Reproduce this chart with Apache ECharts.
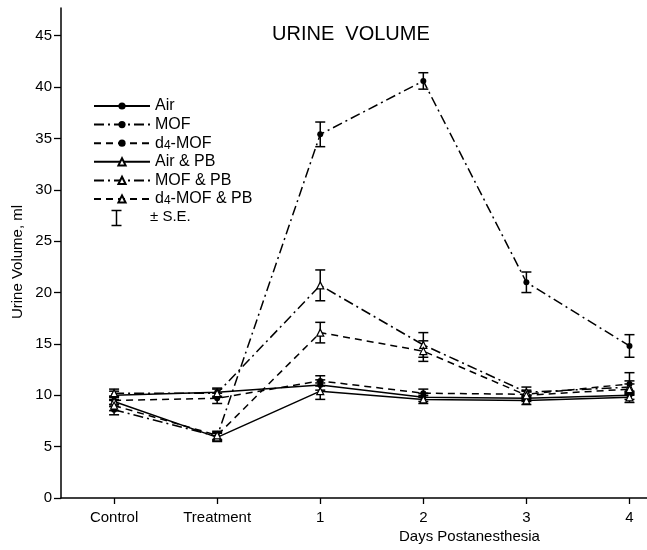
<!DOCTYPE html>
<html>
<head>
<meta charset="utf-8">
<script src="https://cdn.jsdelivr.net/npm/echarts@6/dist/echarts.min.js"></script>
<style>
html, body { margin: 0; padding: 0; background: #fff; }
#chart { width: 647px; height: 550px; }
</style>
</head>
<body>
<div id="chart"></div>
<script>
// x categories and y ticks
var categories = ['Control', 'Treatment', '1', '2', '3', '4'];
var yTicks = [0, 5, 10, 15, 20, 25, 30, 35, 40, 45];

// urine volume (ml)
var air      = [10.0, 10.3, 11.0,  9.8,  9.7, 10.0];
var mof      = [ 8.6,  6.0, 35.4, 40.6, 21.0, 14.8];
var d4mof    = [ 9.5,  9.7, 11.4, 10.2, 10.1, 11.1];
var airPB    = [ 9.4,  5.9, 10.4,  9.6,  9.5,  9.8];
var mofPB    = [10.2, 10.2, 20.7, 14.9, 10.3, 10.8];
var d4mofPB  = [ 9.0,  6.1, 16.1, 14.3, 10.0, 10.6];

// standard errors
var airSE     = [0.4, 0.4, 0.5, 0.4, 0.3, 0.4];
var mofSE     = [0.5, 0.4, 1.2, 0.8, 1.0, 1.1];
var d4mofSE   = [0.4, 0.5, 0.5, 0.4, 0.4, 1.1];
var airPBSE   = [0.5, 0.4, 0.8, 0.4, 0.4, 0.5];
var mofPBSE   = [0.4, 0.4, 1.5, 1.2, 0.5, 0.6];
var d4mofPBSE = [0.5, 0.4, 1.0, 1.0, 0.4, 0.5];

var FONT = 'Liberation Sans';
var DASHDOT = [10, 4, 2, 4];
var DASHED = [7, 5];

var groups = [
    {name: 'Air', values: air, se: airSE, dash: 'solid', tri: false},
    {name: 'MOF', values: mof, se: mofSE, dash: DASHDOT, tri: false},
    {name: 'd4-MOF', values: d4mof, se: d4mofSE, dash: DASHED, tri: false},
    {name: 'Air & PB', values: airPB, se: airPBSE, dash: 'solid', tri: true},
    {name: 'MOF & PB', values: mofPB, se: mofPBSE, dash: DASHDOT, tri: true},
    {name: 'd4-MOF & PB', values: d4mofPB, se: d4mofPBSE, dash: DASHED, tri: true}
];

var series = [];
var errData = [];
groups.forEach(function (g) {
    series.push({
        name: g.name,
        type: 'line',
        data: g.values.map(function (v, i) { return [i, v]; }),
        symbol: g.tri ? 'triangle' : 'circle',
        symbolSize: g.tri ? 7 : 6,
        itemStyle: g.tri ? {color: '#fff', borderColor: '#000', borderWidth: 1.2}
                         : {color: '#000', borderColor: '#000', borderWidth: 0},
        lineStyle: {color: '#000', width: 1.5, type: g.dash},
        z: 4
    });
    g.values.forEach(function (v, i) {
        errData.push([i, v - g.se[i], v + g.se[i]]);
    });
});

// error bars (I shapes) for every point
series.push({
    name: 'se',
    type: 'custom',
    silent: true,
    z: 3,
    data: errData,
    encode: {x: 0, y: [1, 2]},
    renderItem: function (params, api) {
        var x = api.value(0);
        var lo = api.coord([x, api.value(1)]);
        var hi = api.coord([x, api.value(2)]);
        var w = 5;
        var st = {stroke: '#000', lineWidth: 1.5};
        return {
            type: 'group',
            children: [
                {type: 'line', shape: {x1: lo[0], y1: lo[1], x2: hi[0], y2: hi[1]}, style: st},
                {type: 'line', shape: {x1: lo[0] - w, y1: lo[1], x2: lo[0] + w, y2: lo[1]}, style: st},
                {type: 'line', shape: {x1: hi[0] - w, y1: hi[1], x2: hi[0] + w, y2: hi[1]}, style: st}
            ]
        };
    }
});

var chart = echarts.init(document.getElementById('chart'));
var option = {
    animation: false,
    backgroundColor: '#fff',
    textStyle: {fontFamily: FONT, color: '#000'},
    title: {
        text: 'URINE  VOLUME',
        left: 267,
        top: 19,
        textStyle: {fontFamily: FONT, fontSize: 20, fontWeight: 'normal', color: '#000'}
    },
    legend: {
        data: groups.map(function (g) { return g.name; }),
        orient: 'vertical',
        left: 88,
        top: 93,
        itemWidth: 56,
        itemHeight: 9,
        itemGap: 2.6,
        selectedMode: false,
        formatter: function (name) { return name.replace('d4', 'd{sub|4}'); },
        textStyle: {
            fontFamily: FONT, fontSize: 16, color: '#000', lineHeight: 16,
            rich: {sub: {fontFamily: FONT, fontSize: 12, lineHeight: 16, verticalAlign: 'bottom', padding: [4, 0, 0, 0]}}
        }
    },
    grid: {left: 61, right: 0, top: 8, bottom: 52},
    xAxis: {
        type: 'value',
        min: -0.515,
        max: 5.17,
        axisLine: {onZero: false, lineStyle: {color: '#000', width: 1.5}},
        axisTick: {customValues: [0, 1, 2, 3, 4, 5], length: 6, lineStyle: {color: '#000', width: 1.3}},
        axisLabel: {
            customValues: [0, 1, 2, 3, 4, 5],
            margin: 12,
            fontFamily: FONT, fontSize: 15, color: '#000',
            formatter: function (v) { return categories[Math.round(v)]; }
        },
        splitLine: {show: false}
    },
    yAxis: {
        type: 'value',
        min: 0,
        max: 47.7,
        axisLine: {show: true, onZero: false, lineStyle: {color: '#000', width: 1.5}},
        axisTick: {show: true, customValues: yTicks, length: 7, lineStyle: {color: '#000', width: 1.3}},
        axisLabel: {customValues: yTicks, margin: 9, fontFamily: FONT, fontSize: 15, color: '#000'},
        splitLine: {show: false}
    },
    graphic: [
        {
            type: 'text', left: 399, top: 529,
            style: {text: 'Days Postanesthesia', fontFamily: FONT, fontSize: 15, fill: '#000'}
        },
        {
            type: 'text', x: 18, y: 262, rotation: Math.PI / 2,
            style: {text: 'Urine Volume, ml', fontFamily: FONT, fontSize: 15, fill: '#000',
                    align: 'center', verticalAlign: 'middle'}
        },
        {
            type: 'group', left: 109, top: 208,
            children: [
                {type: 'line', shape: {x1: 5, y1: 0, x2: 5, y2: 15}, style: {stroke: '#000', lineWidth: 1.5}},
                {type: 'line', shape: {x1: 0, y1: 0, x2: 10, y2: 0}, style: {stroke: '#000', lineWidth: 1.5}},
                {type: 'line', shape: {x1: 0, y1: 15, x2: 10, y2: 15}, style: {stroke: '#000', lineWidth: 1.5}}
            ]
        },
        {
            type: 'text', left: 150, top: 209,
            style: {text: '\u00B1 S.E.', fontFamily: FONT, fontSize: 15, fill: '#000'}
        }
    ],
    series: series
};
chart.setOption(option);
</script>
</body>
</html>
